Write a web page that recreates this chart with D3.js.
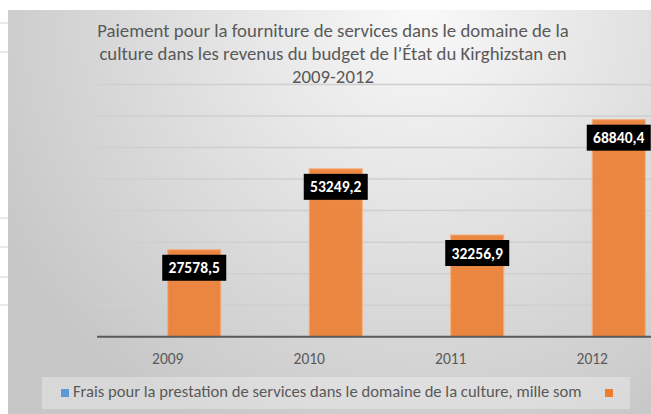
<!DOCTYPE html>
<html>
<head>
<meta charset="utf-8">
<script src="https://cdn.jsdelivr.net/npm/d3@7"></script>
<style>
  html, body { margin: 0; padding: 0; background: #fff; }
  svg { display: block; font-family: Calibri, Carlito, Lato, sans-serif; }
</style>
</head>
<body>
<svg id="chart" width="651" height="414"></svg>
<script>
// data
const years = ['2009', '2010', '2011', '2012'];
const seriesNames = ['Frais pour la prestation de services dans le domaine de la culture, mille som', ''];
const fraisValues = [null, null, null, null];
const paiementValues = [27578.5, 53249.2, 32256.9, 68840.4];
const yTicks = [0, 10000, 20000, 30000, 40000, 50000, 60000, 70000, 80000];
const titleLines = [
  'Paiement pour la fourniture de services dans le domaine de la',
  'culture dans les revenus du budget de l\u2019\u00c9tat du Kirghizstan en',
  '2009-2012'
];

const seriesColors = ['#5b9bd5', '#ed7d31'];
const series = [fraisValues, paiementValues];

const svg = d3.select('#chart');
const W = 651, H = 414;

// spreadsheet cells peeking out on the left
const sheetRows = [23, 52, 218, 247, 277, 305];
svg.append('g')
  .selectAll('line')
  .data(sheetRows)
  .join('line')
  .attr('x1', 0).attr('x2', 8)
  .attr('y1', d => d).attr('y2', d => d)
  .attr('stroke', '#d4d4d4');

// chart area background
const defs = svg.append('defs');
const grad = defs.append('radialGradient')
  .attr('id', 'bg')
  .attr('gradientUnits', 'userSpaceOnUse')
  .attr('cx', 420).attr('cy', 10).attr('r', 470);
grad.append('stop').attr('offset', '0%').attr('stop-color', '#f9f9f9');
grad.append('stop').attr('offset', '100%').attr('stop-color', '#c7c7c7');

svg.append('rect')
  .attr('x', 8).attr('y', 10)
  .attr('width', W - 8).attr('height', H - 10)
  .attr('fill', 'url(#bg)');

// title
svg.append('g')
  .selectAll('text')
  .data(titleLines)
  .join('text')
  .attr('x', 333)
  .attr('y', (d, i) => 37 + i * 23)
  .attr('text-anchor', 'middle')
  .attr('fill', '#595959')
  .style('font-size', '18.8px')
  .text(d => d);

// scales
const x = d3.scaleBand()
  .domain(years)
  .range([97, 663])
  .paddingInner(0)
  .paddingOuter(0);

const xSub = d3.scaleBand()
  .domain([0, 1])
  .range([0, x.bandwidth()])
  .paddingInner(0)
  .paddingOuter(0.335);

const y = d3.scaleLinear()
  .domain([0, 80000])
  .range([336.7, 84.5]);

// gridlines
svg.append('g')
  .selectAll('line')
  .data(yTicks.slice(1))
  .join('line')
  .attr('x1', x.range()[0]).attr('x2', W)
  .attr('y1', d => y(d)).attr('y2', d => y(d))
  .attr('stroke', '#cfcfcf')
  .attr('stroke-width', 1.5);

// bars
const barData = [];
series.forEach((vals, s) => {
  vals.forEach((v, i) => {
    if (v != null) barData.push({ year: years[i], s: s, value: v });
  });
});

svg.append('g')
  .selectAll('rect')
  .data(barData)
  .join('rect')
  .attr('x', d => x(d.year) + xSub(d.s))
  .attr('y', d => y(d.value))
  .attr('width', xSub.bandwidth())
  .attr('height', d => y(0) - y(d.value))
  .attr('fill', seriesColors[1])
  .attr('fill-opacity', 0.9)
  .attr('stroke', '#f6ab78')
  .attr('stroke-width', 1);

// x axis
const xAxis = svg.append('g')
  .attr('transform', `translate(0,${y(0)})`)
  .call(d3.axisBottom(x).tickSize(0).tickPadding(16));
xAxis.select('.domain')
  .attr('d', `M${x.range()[0]},0H${W}`)
  .attr('stroke', '#595959')
  .attr('stroke-width', 2);
xAxis.selectAll('text')
  .attr('fill', '#595959')
  .style('font-family', 'Calibri, Carlito, Lato, sans-serif')
  .style('font-size', '15.5px');

// data labels (inside end)
const fmt = v => d3.format('.1f')(v).replace('.', ',');
const labels = svg.append('g')
  .selectAll('g')
  .data(barData)
  .join('g')
  .attr('transform', d => `translate(${x(d.year) + xSub(d.s) + xSub.bandwidth() / 2},${y(d.value) + 18})`);
labels.append('rect')
  .attr('x', -32).attr('y', -13)
  .attr('width', 64).attr('height', 26)
  .attr('fill', '#000');
labels.append('text')
  .attr('text-anchor', 'middle')
  .attr('dy', '0.36em')
  .attr('fill', '#fff')
  .style('font-size', '15.6px')
  .style('font-weight', 'bold')
  .text(d => fmt(d.value));

// legend
const legend = svg.append('g');
legend.append('rect')
  .attr('x', 42).attr('y', 377)
  .attr('width', 588).attr('height', 32)
  .attr('fill', '#fff')
  .attr('fill-opacity', 0.3);

legend.append('rect')
  .attr('x', 61).attr('y', 389)
  .attr('width', 8).attr('height', 8)
  .attr('fill', seriesColors[0]);
legend.append('text')
  .attr('x', 73).attr('y', 397)
  .attr('fill', '#595959')
  .style('font-size', '16.6px')
  .text(seriesNames[0]);
legend.append('rect')
  .attr('x', 605).attr('y', 389)
  .attr('width', 8).attr('height', 8)
  .attr('fill', seriesColors[1]);
</script>
</body>
</html>
